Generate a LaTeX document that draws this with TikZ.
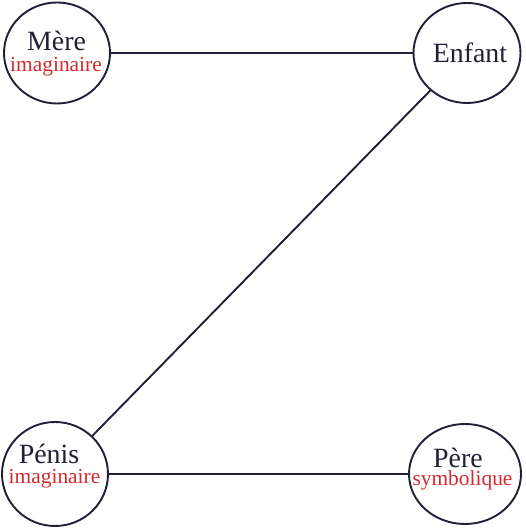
\documentclass[tikz,border=0pt]{standalone}
\usepackage{fontspec}
\setmainfont{Liberation Serif}
\usetikzlibrary{shapes.geometric}
\definecolor{ink}{HTML}{202036}
\definecolor{redtxt}{HTML}{D42A2E}
\tikzset{
  ring/.style={draw=ink, line width=1.9bp, ellipse, inner sep=0pt},
  big/.style={anchor=base, inner sep=0pt, text=ink, font=\fontsize{28}{28}\selectfont},
  small/.style={anchor=base, inner sep=0pt, text=redtxt, font=\fontsize{21.5}{21.5}\selectfont},
  link/.style={draw=ink, line width=1.9bp}
}
\begin{document}
\begin{tikzpicture}[x=1bp,y=1bp]
\useasboundingbox (0,0) rectangle (526,529);
\node[ring, minimum width=106bp, minimum height=101bp] (mere) at (57,476) {};
\node[ring, minimum width=107bp, minimum height=100bp] (enfant) at (467,476) {};
\node[ring, minimum width=106bp, minimum height=104bp] (penis) at (55,55) {};
\node[ring, minimum width=112bp, minimum height=100bp] (pere) at (465,55) {};
\node[big] (mereT) at (56.5,478) {Mère};
\node[small] (mereS) at (56,457) {imaginaire};
\node[big] (enfantT) at (470,466) {Enfant};
\node[big] (penisT) at (49,65) {Pénis};
\node[small] (penisS) at (54.5,45) {imaginaire};
\node[big] (pereT) at (458,61) {Père};
\node[small] (pereS) at (462.5,43) {symbolique};
\draw[link] (mere) -- (enfant);
\draw[link] (enfant) -- (penis);
\draw[link] (penis) -- (pere);
\end{tikzpicture}
\end{document}
